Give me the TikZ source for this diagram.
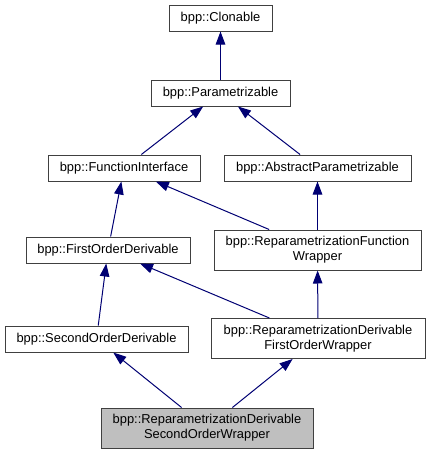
\documentclass[tikz,border=0pt]{standalone}
\usepackage{fontspec}
\setmainfont{Liberation Sans}
\usetikzlibrary{arrows.meta}

\begin{document}
\begin{tikzpicture}[x=1pt,y=-1pt,line width=1pt,
  cls/.style={draw=black!75,fill=white,line width=1pt,inner sep=0pt,
    align=center,font=\fontsize{12.9}{15}\selectfont,minimum height=26pt},
  twoline/.style={cls,minimum height=40pt},
  cur/.style={twoline,fill=black!25},
  inh/.style={{Triangle[length=13pt,width=9.5pt]}-,draw=blue!45!black,line width=1pt}]
\useasboundingbox (0,0) rectangle (429,455);
% base classes
\node[cls,minimum width=103pt] (clonable) at (220.5,18) {bpp::Clonable};
\node[cls,minimum width=139pt] (param) at (220.5,93) {bpp::Parametrizable};
\node[cls,minimum width=152pt] (funcif) at (124,168) {bpp::FunctionInterface};
\node[cls,minimum width=187pt] (absparam) at (317.5,168) {bpp::AbstractParametrizable};
% derivable interfaces
\node[cls,minimum width=164pt] (firstder) at (108,250) {bpp::FirstOrderDerivable};
\node[cls,minimum width=183pt] (secondder) at (96.5,339) {bpp::SecondOrderDerivable};
% wrappers
\node[twoline,minimum width=207pt] (funcwrap) at (317.5,250)
  {bpp::ReparametrizationFunction\\Wrapper};
\node[twoline,minimum width=214pt] (firstwrap) at (318,338.5)
  {bpp::ReparametrizationDerivable\\FirstOrderWrapper};
\node[cur,minimum width=212pt] (secondwrap) at (207,428)
  {bpp::ReparametrizationDerivable\\SecondOrderWrapper};
% inheritance arrows
\draw[inh] (clonable) -- (param);
\draw[inh] (param) -- (funcif);
\draw[inh] (param) -- (absparam);
\draw[inh] (funcif) -- (firstder);
\draw[inh] (funcif) -- (funcwrap);
\draw[inh] (absparam) -- (funcwrap);
\draw[inh] (firstder) -- (secondder);
\draw[inh] (firstder) -- (firstwrap);
\draw[inh] (funcwrap) -- (firstwrap);
\draw[inh] (secondder) -- (secondwrap);
\draw[inh] (firstwrap) -- (secondwrap);
\end{tikzpicture}
\end{document}
